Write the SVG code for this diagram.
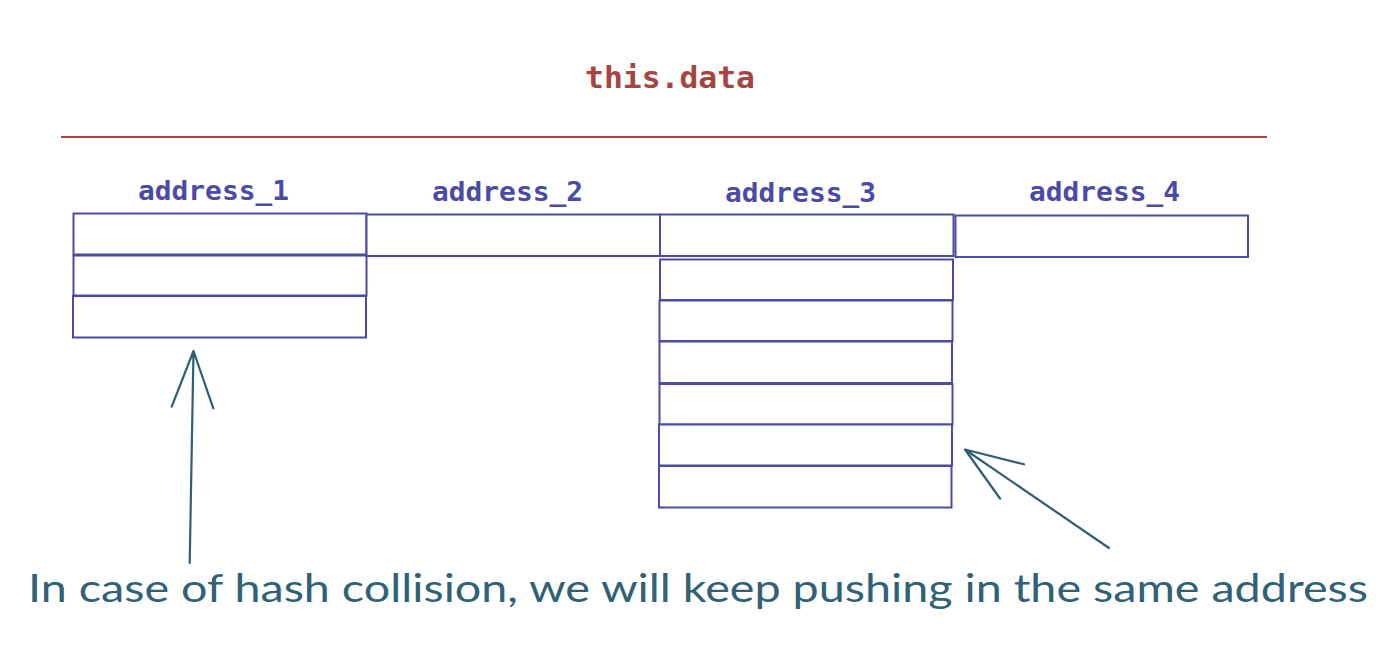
<svg xmlns="http://www.w3.org/2000/svg" width="1400" height="671" viewBox="0 0 1400 671">
<style>
.cell{fill:#ffffff;stroke:#4b4ba6;stroke-width:2}
.lbl{font-family:"DejaVu Sans Mono","Liberation Mono",monospace;font-size:26px;fill:#4b4ba6;font-weight:bold}
.title{font-family:"DejaVu Sans Mono","Liberation Mono",monospace;font-size:30px;fill:#a8443f;font-weight:bold}
.arrow{fill:none;stroke:#2f5f73;stroke-width:2.2;stroke-linecap:round;stroke-linejoin:round}
.note{font-family:"Lato","Open Sans",sans-serif;font-size:38px;fill:#2f6276}
</style>
<rect width="1400" height="671" fill="#ffffff"/>
<g id="title">
<text class="title" x="585" y="88" textLength="170" lengthAdjust="spacingAndGlyphs">this.data</text>
<line x1="61" y1="137" x2="1267" y2="137" stroke="#a8443f" stroke-width="2"/>
</g>
<g id="address_1">
<text class="lbl" x="138" y="200" textLength="151" lengthAdjust="spacingAndGlyphs">address_1</text>
<rect class="cell" x="73.5" y="213.5" width="293" height="41"/>
<rect class="cell" x="73.5" y="255.5" width="293" height="40"/>
<rect class="cell" x="73" y="296" width="293" height="41.5"/>
</g>
<g id="address_2">
<text class="lbl" x="432" y="201" textLength="151" lengthAdjust="spacingAndGlyphs">address_2</text>
<rect class="cell" x="366.5" y="214.5" width="293.5" height="41.5"/>
</g>
<g id="address_3">
<text class="lbl" x="725" y="202" textLength="151" lengthAdjust="spacingAndGlyphs">address_3</text>
<rect class="cell" x="660" y="214.5" width="293.5" height="41.5"/>
<rect class="cell" x="660" y="259.5" width="293" height="40.5"/>
<rect class="cell" x="659.5" y="300.5" width="293" height="40.5"/>
<rect class="cell" x="659.5" y="341.5" width="292.5" height="41.5"/>
<rect class="cell" x="659.5" y="384" width="293" height="40.5"/>
<rect class="cell" x="659" y="424.5" width="293" height="41"/>
<rect class="cell" x="659" y="466" width="292.5" height="41.5"/>
</g>
<g id="address_4">
<text class="lbl" x="1029" y="201" textLength="151" lengthAdjust="spacingAndGlyphs">address_4</text>
<rect class="cell" x="955.5" y="215.5" width="292.5" height="41.5"/>
</g>
<g id="connectors">
<path class="arrow" d="M189.7 563 L193.5 351 M171.7 406.7 L193.5 351 L213.3 408.3"/>
<path class="arrow" d="M1109 548 L965 449.5 M1024 464.3 L965 449.5 L1000 498.5"/>
</g>
<g id="note">
<text class="note" x="28" y="602" textLength="1340" lengthAdjust="spacingAndGlyphs">In case of hash collision, we will keep pushing in the same address</text>
</g>
</svg>
